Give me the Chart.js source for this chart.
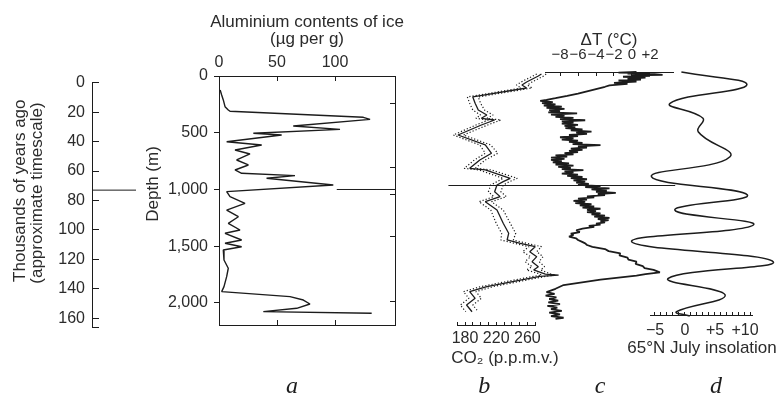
<!DOCTYPE html>
<html>
<head>
<meta charset="utf-8">
<script src="https://cdn.jsdelivr.net/npm/chart.js@4.4.0/dist/chart.umd.min.js"></script>
<style>
  html, body { margin: 0; background: #fff; overflow: hidden; }
  #fig { position: relative; width: 781px; height: 397px; overflow: hidden; }
  #fig canvas { position: absolute; top: 0; }
</style>
</head>
<body>
<div id="fig">
  <canvas id="ageChart" width="781" height="397" style="left:0"></canvas>
  <canvas id="alChart" width="614" height="397" style="left:0"></canvas>
  <canvas id="co2Chart" width="210" height="397" style="left:400px"></canvas>
  <canvas id="tempChart" width="781" height="397" style="left:0"></canvas>
  <canvas id="insoChart" width="200" height="397" style="left:602px"></canvas>
</div>
<script>
// approximate timescale (thousands of years ago)
const ageTicks = [0, 20, 40, 60, 80, 100, 120, 140, 160];
const ageAxisEnd = 166;
const markerAge = 73;
const markerDepth = 1000;

// depth axis
const depthTicks = [0, 500, 1000, 1500, 2000];

// a: aluminium contents of ice (µg per g) against depth (m)
const alTicks = [0, 50, 100];
const alBottomTicks = [50, 100];
const alRightTicks = [238, 802, 1048, 1418, 1991];
const alDepth = [123, 167, 211, 270, 300, 311, 364, 382, 441, 470, 505, 520, 579, 608, 652, 687, 740, 784, 828, 857, 878, 901, 960, 1019, 1063, 1122, 1181, 1240, 1298, 1357, 1386, 1445, 1474, 1504, 1533, 1621, 1694, 1768, 1856, 1900, 1944, 1974, 2009, 2047, 2076, 2091];
const alValue = [1, 2.3, 3.7, 5.2, 8, 9.5, 124.4, 130.2, 64, 104.3, 29.6, 54, 6.6, 36.8, 13.8, 26.7, 15.2, 25.3, 13.8, 19.5, 65.5, 41, 98.5, 6.6, 9.5, 22.4, 6.6, 16.7, 8, 18.1, 5.2, 19.5, 5.2, 19.5, 3.7, 4.3, 8, 6.6, 4.3, 2.3, 61.2, 72.7, 78.4, 67, 38.2, 131.6];
const alMarkerSpan = [101.5, 152];

// b: CO2 (p.p.m.v.) with its uncertainty envelope
const co2Ticks = [170, 180, 190, 200, 210, 220, 230, 240, 250, 260, 270];
const co2Labels = [180, 220, 260];
const co2Depth = [18, 35, 88, 115, 141, 220, 276, 335, 379, 408, 423, 467, 555, 643, 716, 775, 849, 863, 937, 966, 996, 1055, 1098, 1143, 1216, 1333, 1421, 1480, 1509, 1539, 1583, 1627, 1671, 1715, 1744, 1780, 1789, 1800, 1833, 1891, 1935, 1994, 2053, 2112];
const co2Value = [278, 274, 259, 253, 259, 190, 193, 197, 208, 201, 218, 201, 171, 206, 214, 199, 186, 206, 238, 229, 221, 218, 225, 206, 221, 229, 236, 234, 251, 270, 263, 272, 266, 274, 268, 283, 300, 276, 251, 208, 186, 193, 182, 189];
const co2Upper = [284, 281, 266, 260, 266, 197, 200, 205, 216, 208, 226, 209, 178, 213, 222, 206, 193, 214, 247, 237, 229, 226, 233, 214, 229, 238, 245, 242, 259, 278, 272, 280, 275, 282, 277, 290, 296, 284, 259, 216, 194, 201, 190, 197];
const co2Lower = [272, 267, 252, 246, 252, 183, 186, 190, 200, 194, 210, 194, 165, 199, 206, 192, 179, 198, 229, 221, 213, 210, 217, 198, 213, 220, 227, 226, 243, 262, 254, 264, 257, 266, 259, 276, 278, 268, 243, 200, 178, 185, 174, 181];

// c: temperature change (°C)
const tempTicks = [-8, -6, -4, -2, 0, 2];
const tempMarkerSpan = [-20.4, 4.8];
const tempDepth = [
  0, 5, 10, 15, 20, 26, 30, 35, 42, 50,
  58, 66, 75, 85, 95, 105, 118, 130, 150, 170,
  190, 210, 230, 245, 255, 265, 275, 285, 295, 305,
  315, 325, 335, 345, 355, 365, 375, 385, 395, 405,
  415, 425, 435, 445, 455, 465, 475, 485, 495, 505,
  515, 525, 535, 545, 555, 565, 575, 585, 595, 605,
  615, 625, 635, 645, 655, 665, 675, 685, 695, 705,
  715, 725, 735, 745, 755, 765, 775, 785, 795, 805,
  815, 825, 835, 845, 855, 865, 875, 885, 895, 905,
  915, 925, 935, 945, 955, 965, 975, 985, 995, 1005,
  1015, 1025, 1035, 1045, 1055, 1065, 1075, 1085, 1095, 1105,
  1115, 1125, 1135, 1145, 1155, 1165, 1175, 1185, 1195, 1205,
  1215, 1225, 1235, 1245, 1255, 1265, 1275, 1285, 1295, 1305,
  1315, 1325, 1335, 1345, 1355, 1365, 1380, 1395, 1410, 1425,
  1436, 1450, 1465, 1480, 1495, 1510, 1524, 1540, 1560, 1578,
  1597, 1615, 1635, 1652, 1671, 1690, 1710, 1727, 1744, 1765,
  1780, 1794, 1830, 1877, 1910, 1940, 1955, 1970, 1985, 2000,
  2015, 2030, 2045, 2060, 2075, 2090, 2105, 2120, 2135, 2150,
  2165, 2175];
const tempValue = [
  0.5, -1.5, 2.0, -0.5, 2.5, 3.4, 0.0, 2.0, -1.0, 1.5,
  -0.5, 1.0, -1.5, 0.5, -2.0, -0.5, -2.5, -3.0, -4.0, -5.0,
  -6.0, -7.2, -8.5, -9.5, -10.2, -8.8, -10.0, -8.5, -9.8, -7.8,
  -9.5, -7.5, -9.2, -8.0, -9.3, -6.1, -9.0, -7.5, -8.5, -6.5,
  -8.0, -5.2, -7.8, -6.5, -7.8, -6.0, -7.5, -6.3, -7.4, -5.5,
  -6.8, -4.5, -6.2, -5.0, -7.0, -6.0, -8.0, -6.5, -7.8, -6.0,
  -7.0, -5.5, -6.6, -3.5, -6.0, -5.0, -6.8, -5.5, -7.0, -6.0,
  -7.5, -6.5, -8.5, -7.2, -9.0, -7.5, -9.0, -7.8, -8.8, -7.0,
  -8.5, -6.5, -8.2, -6.8, -7.8, -5.4, -7.5, -6.5, -7.8, -6.0,
  -7.2, -5.5, -6.8, -5.0, -6.5, -5.2, -6.2, -4.8, -6.0, -3.5,
  -5.2, -2.5, -4.5, -2.8, -4.0, -1.8, -3.8, -3.0, -5.0, -4.2,
  -6.0, -5.0, -6.5, -5.2, -6.3, -4.5, -5.8, -4.2, -5.5, -3.5,
  -5.0, -4.0, -5.0, -3.5, -4.5, -3.0, -4.2, -2.5, -3.8, -2.6,
  -3.5, -3.0, -4.0, -3.5, -4.8, -4.2, -5.5, -6.2, -5.8, -6.8,
  -6.5, -7.0, -6.2, -6.0, -5.6, -5.2, -5.0, -4.4, -3.0, -2.6,
  -1.3, -1.4, -0.5, -0.4, 0.5, 0.4, 1.2, 1.4, 2.4, 3.1,
  1.5, 0.5, -3.5, -7.6, -8.5, -9.5, -8.6, -9.6, -8.4, -9.2,
  -8.2, -9.3, -8.0, -9.4, -8.3, -9.0, -7.8, -9.2, -8.0, -9.0,
  -7.6, -8.5];

// d: 65°N July insolation anomaly
const insoTicks = [-5, -4, -3, -2, -1, 0, 1, 2, 3, 4, 5, 6, 7, 8, 9, 10, 11];
const insoLabels = [-5, 0, 5, 10];
const insoDepth = [0, 115, 276, 408, 526, 746, 922, 1084, 1216, 1348, 1495, 1671, 1818, 1965, 2112, 2150];
const insoValue = [-0.6, 10.3, -2.5, 3.0, 2.2, 7.5, -5.6, 10.4, -1.7, 11.4, -8.9, 14.7, -2.8, 6.7, -1.4, 0.8];


Chart.defaults.animation = false;
Chart.defaults.plugins.legend.display = false;
Chart.defaults.plugins.tooltip.enabled = false;
Chart.defaults.elements.point.radius = 0;
Chart.defaults.elements.line.capBezierPoints = false;

const INK = '#1c1c1c';
const TEXT = '#2b2b2b';
const SANS = "'Liberation Sans', Arial, Helvetica, sans-serif";
Chart.defaults.font.family = SANS;
Chart.defaults.color = TEXT;

const tickFont = { family: SANS, size: 16 };
const titleFont = { family: SANS, size: 17, lineHeight: 1 };
const letterFont = { family: "'Liberation Serif', 'Times New Roman', serif", style: 'italic', size: 24, lineHeight: 0.8 };

// fixed axis sizes so the plot areas land where the figure has them
const size = n => s => { if (s.isHorizontal()) s.height = n; else s.width = n; };
const useTicks = list => s => { s.ticks = list.map(value => ({ value })); };
const spaces = n => ' '.repeat(n);
const pairs = (xs, ys) => xs.map((x, i) => ({ x: x, y: ys[i] }));
const signed = v => v === 0 ? '0' : (v > 0 ? '+' : '\u2212') + Math.abs(v);

const border = { display: true, color: INK, width: 1 };
const marks = len => ({ drawOnChartArea: false, color: INK, lineWidth: 1, tickLength: len });

function trace(points, width, dash) {
  return {
    data: points, showLine: true, borderColor: INK, backgroundColor: INK,
    borderWidth: width, borderDash: dash || [], pointRadius: 0, tension: 0,
    borderJoinStyle: 'bevel', clip: false
  };
}

// an invisible vertical axis that only takes up room beside the plot
function spacer(position, width, max) {
  return {
    type: 'linear', position: position, reverse: true, min: 0, max: max, afterFit: size(width),
    border: { display: false }, grid: { display: false }, ticks: { display: false }
  };
}

function letterAxis(text, min, max, h) {
  return {
    type: 'linear', position: 'bottom', weight: 3000, min: min, max: max, afterFit: size(h),
    border: { display: false }, grid: { display: false }, ticks: { display: false },
    title: { display: true, text: text, font: letterFont, color: INK, padding: { top: 0, bottom: 0.4 } }
  };
}

function plotTitle(text, position, top, bottom) {
  return {
    display: true, text: text, position: position, fullSize: true, color: TEXT,
    font: { family: SANS, size: 17, weight: 'normal', lineHeight: 1 },
    padding: { top: top, bottom: bottom }
  };
}

// timescale axis on the far left
new Chart(document.getElementById('ageChart'), {
  type: 'scatter',
  data: { datasets: [trace([{ x: 0, y: markerAge }, { x: 1, y: markerAge }], 1)] },
  options: {
    responsive: false,
    layout: { padding: { left: 0, right: 645, top: 82.7, bottom: 70 } },
    scales: {
      x: { type: 'linear', display: false, min: 0, max: 1 },
      y: {
        type: 'linear', position: 'left', reverse: true, min: 0, max: ageAxisEnd,
        afterFit: size(92), afterBuildTicks: useTicks(ageTicks.concat([ageAxisEnd])),
        border: border, grid: marks(-7),
        ticks: { font: tickFont, padding: 14, autoSkip: false, callback: v => ageTicks.includes(v) ? v : '' },
        title: {
          display: true, font: titleFont, padding: { top: 11.5, bottom: 0 },
          text: [spaces(6) + 'Thousands of years ago', spaces(5) + '(approximate timescale)']
        }
      }
    }
  }
});

// a: aluminium
new Chart(document.getElementById('alChart'), {
  type: 'scatter',
  data: {
    datasets: [
      trace(pairs(alValue, alDepth), 1.4),
      trace(pairs(alMarkerSpan, [markerDepth, markerDepth]), 1)
    ]
  },
  options: {
    responsive: false,
    layout: { padding: 0 },
    plugins: { title: plotTitle(['Aluminium contents of ice', '(\u00b5g per g)'], 'top', 13.5, 0) },
    scales: {
      x: {
        type: 'linear', position: 'top', min: 0, max: 151.7,
        afterFit: size(28.5), afterBuildTicks: useTicks(alTicks),
        border: border, grid: marks(-5),
        ticks: { font: tickFont, padding: 8.4, autoSkip: false, maxRotation: 0 }
      },
      xb: {
        type: 'linear', position: 'bottom', weight: 0, min: 0, max: 151.7,
        afterFit: size(10), afterBuildTicks: useTicks(alBottomTicks),
        border: border, grid: marks(-5), ticks: { display: false }
      },
      xl: letterAxis('a' + spaces(5), 0, 151.7, 62),
      y: {
        type: 'linear', position: 'left', reverse: true, min: 0, max: 2194,
        afterFit: size(219), afterBuildTicks: useTicks(depthTicks),
        border: border, grid: marks(5),
        ticks: { font: tickFont, padding: 6, autoSkip: false, callback: v => v.toLocaleString('en-US') },
        title: { display: true, text: spaces(7) + 'Depth (m)', font: titleFont, padding: { top: 145, bottom: 0 } }
      },
      y2: {
        type: 'linear', position: 'right', reverse: true, min: 0, max: 2194,
        afterFit: size(219), afterBuildTicks: useTicks(alRightTicks),
        border: border, grid: marks(-5), ticks: { display: false }
      }
    }
  }
});

// b: CO2
new Chart(document.getElementById('co2Chart'), {
  type: 'scatter',
  data: {
    datasets: [
      trace(pairs(co2Upper, co2Depth), 1.2, [1.2, 2]),
      trace(pairs(co2Lower, co2Depth), 1.2, [1.2, 2]),
      trace(pairs(co2Value, co2Depth), 1.3)
    ]
  },
  options: {
    responsive: false,
    layout: { padding: { left: 0, right: 0, top: 72, bottom: 0 } },
    plugins: { title: plotTitle('CO\u2082 (p.p.m.v.)', 'bottom', 0.5, 0) },
    scales: {
      x: {
        type: 'linear', position: 'bottom', weight: 0, min: 170, max: 270,
        afterFit: size(24), afterBuildTicks: useTicks(co2Ticks),
        border: border, grid: marks(-3),
        ticks: {
          font: tickFont, padding: 7.4, autoSkip: false, maxRotation: 0, minRotation: 0,
          callback: v => co2Labels.includes(v) ? v : ''
        }
      },
      xl: letterAxis('b' + spaces(4), 170, 270, 30.5),
      y: spacer('left', 57.2, 2229),
      y2: spacer('right', 74.8, 2229)
    }
  }
});

// c: temperature
new Chart(document.getElementById('tempChart'), {
  type: 'scatter',
  data: {
    datasets: [
      trace(pairs(tempValue, tempDepth), 1.8),
      trace(pairs(tempMarkerSpan, [markerDepth, markerDepth]), 1)
    ]
  },
  options: {
    responsive: false,
    layout: { padding: { left: 545, right: 108, top: 0, bottom: 0 } },
    scales: {
      x: {
        type: 'linear', position: 'top', min: -9.667, max: 4.556,
        afterFit: size(72), afterBuildTicks: useTicks(tempTicks),
        border: border, grid: marks(-4),
        ticks: { font: { family: SANS, size: 15 }, padding: 12, autoSkip: false, maxRotation: 0, callback: signed },
        title: { display: true, text: '\u0394T (\u00b0C)', font: titleFont, padding: { top: 31.5, bottom: 0 } }
      },
      xl: letterAxis('c' + spaces(3), -9.667, 4.556, 72),
      y: { type: 'linear', display: false, reverse: true, min: 0, max: 2229 }
    }
  }
});

// d: insolation
new Chart(document.getElementById('insoChart'), {
  type: 'scatter',
  data: { datasets: [Object.assign(trace(pairs(insoValue, insoDepth), 1.5), { tension: 0.45 })] },
  options: {
    responsive: false,
    layout: { padding: { left: 0, right: 0, top: 72, bottom: 0 } },
    plugins: { title: plotTitle('65\u00b0N July insolation', 'bottom', 0.5, 0) },
    scales: {
      x: {
        type: 'linear', position: 'bottom', weight: 0, min: -5.833, max: 11.167,
        afterFit: size(24), afterBuildTicks: useTicks(insoTicks),
        border: border, grid: marks(-3),
        ticks: {
          font: tickFont, padding: 9.4, autoSkip: false, maxRotation: 0, minRotation: 0,
          callback: v => insoLabels.includes(v) ? signed(v) : ''
        }
      },
      xl: letterAxis(spaces(5) + 'd', -5.833, 11.167, 40.5),
      y: spacer('left', 48, 2141),
      y2: spacer('right', 50, 2141)
    }
  }
});
</script>
</body>
</html>
